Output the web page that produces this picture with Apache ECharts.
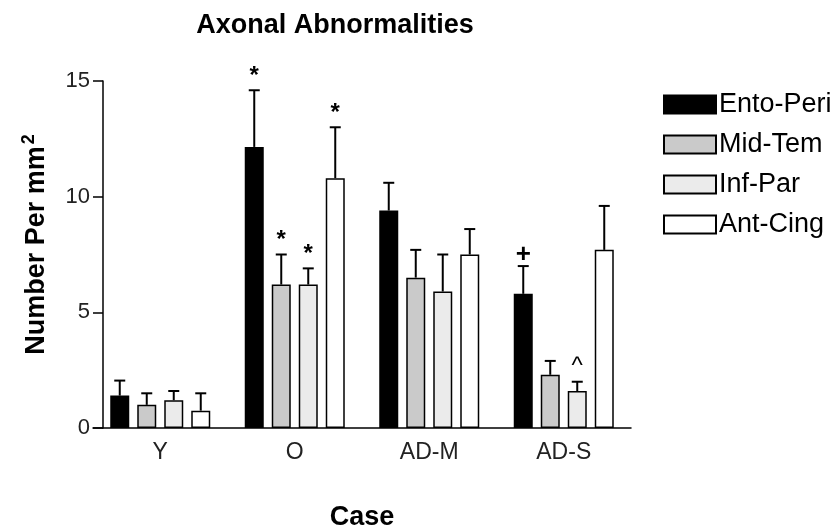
<!DOCTYPE html>
<html>
<head>
    <meta charset="utf-8">
    <title>Axonal Abnormalities</title>
    <script src="https://cdn.jsdelivr.net/npm/echarts@6/dist/echarts.min.js"></script>
    <style>
        body{
            margin: 0;
        }
        #main{
            width: 840px;
            height: 529px;
        }
    </style>
</head>
<body>
<div id="main"></div>
<script>
    // categories (cases) and regions
    var cases = ['Y', 'O', 'AD-M', 'AD-S'];
    var regions = ['Ento-Peri', 'Mid-Tem', 'Inf-Par', 'Ant-Cing'];

    // mean values
    var entoPeri = [1.4, 12.15, 9.4, 5.8];
    var midTem   = [1.0, 6.2, 6.5, 2.3];
    var infPar   = [1.2, 6.2, 5.9, 1.6];
    var antCing  = [0.75, 10.8, 7.5, 7.7];

    // upper error (SEM)
    var entoPeriErr = [0.65, 2.45, 1.2, 1.2];
    var midTemErr   = [0.5, 1.3, 1.2, 0.6];
    var infParErr   = [0.4, 0.7, 1.6, 0.4];
    var antCingErr  = [0.75, 2.2, 1.1, 1.9];

    // significance marks over the error bars
    var entoPeriMark = ['', '*', '', '+'];
    var midTemMark   = ['', '*', '', ''];
    var infParMark   = ['', '*', '', '^'];
    var antCingMark  = ['', '*', '', ''];

    var yTicks = [0, 5, 10, 15];

    var means = [entoPeri, midTem, infPar, antCing];
    var errs = [entoPeriErr, midTemErr, infParErr, antCingErr];
    var marks = [entoPeriMark, midTemMark, infParMark, antCingMark];
    var colors = ['#000000', '#cacaca', '#ebebeb', '#ffffff'];

    var barW = 19;
    var barGap = 8;

    // how far above the cap each mark sits
    var markStyle = {
        '*': {size: 24, weight: 'bold', lift: 2},
        '+': {size: 26, weight: 'bold', lift: -2},
        '^': {size: 24, weight: 'normal', lift: 3}
    };

    var series = [];
    regions.forEach(function (name, i) {
        series.push({
            name: name,
            type: 'bar',
            data: means[i],
            barWidth: barW,
            barGap: (barGap / barW * 100) + '%',
            itemStyle: {color: colors[i], borderColor: '#000', borderWidth: 1.5},
            emphasis: {disabled: true},
            z: 2
        });
    });
    // error bars + marks
    regions.forEach(function (name, i) {
        var d = means[i].map(function (v, k) { return [k, v, errs[i][k]]; });
        series.push({
            type: 'custom',
            data: d,
            z: 3,
            silent: true,
            encode: {x: 0, y: 1},
            renderItem: function (params, api) {
                var off = (i - 1.5) * (barW + barGap);
                var base = api.coord([api.value(0), api.value(1)]);
                var top = api.coord([api.value(0), api.value(1) + api.value(2)]);
                var x = base[0] + off;
                var mark = marks[i][params.dataIndex];
                var children = [
                    {type: 'line', shape: {x1: x, y1: base[1], x2: x, y2: top[1]},
                        style: {stroke: '#000', lineWidth: 2}},
                    {type: 'line', shape: {x1: x - 5.5, y1: top[1], x2: x + 5.5, y2: top[1]},
                        style: {stroke: '#000', lineWidth: 2}}
                ];
                if (mark) {
                    var ms = markStyle[mark];
                    children.push({
                        type: 'text',
                        style: {
                            text: mark, x: x, y: top[1] - ms.lift,
                            textAlign: 'center', textVerticalAlign: 'bottom',
                            fontFamily: 'Liberation Sans, Arial', fontWeight: ms.weight,
                            fontSize: ms.size, fill: '#000'
                        }
                    });
                }
                return {type: 'group', children: children};
            }
        });
    });

    var option = {
        animation: false,
        textStyle: {fontFamily: 'Liberation Sans, Arial'},
        title: {
            text: 'Axonal Abnormalities',
            left: 330,
            textAlign: 'center',
            top: 7,
            textStyle: {fontSize: 27, fontWeight: 'bold', color: '#000'}
        },
        legend: {
            orient: 'vertical',
            left: 658,
            top: 86,
            data: regions,
            icon: 'rect',
            itemWidth: 52,
            itemHeight: 18,
            itemGap: 13,
            textStyle: {fontSize: 27, color: '#000', padding: [0, 0, 0, -2]}
        },
        grid: {left: 93, right: 209, top: 81, bottom: 101, outerBoundsMode: 'none'},
        xAxis: {
            type: 'category',
            data: cases,
            name: 'Case',
            nameLocation: 'middle',
            nameGap: 76,
            nameTextStyle: {fontSize: 27, fontWeight: 'bold', color: '#000'},
            axisLine: {lineStyle: {color: '#000', width: 1.5}},
            axisTick: {show: false},
            axisLabel: {fontSize: 23, color: '#222', margin: 13}
        },
        yAxis: {
            type: 'value',
            min: 0,
            max: yTicks[yTicks.length - 1],
            interval: 5,
            offset: -10,
            name: 'Number Per mm{sup|2}',
            nameLocation: 'middle',
            nameGap: 49,
            nameTextStyle: {
                fontSize: 27, fontWeight: 'bold', color: '#000',
                padding: [0, 0, 0, 20],
                rich: {sup: {fontSize: 18, fontWeight: 'bold', color: '#000', padding: [0, 0, 16, 2]}}
            },
            splitLine: {show: false},
            axisLine: {show: true, lineStyle: {color: '#000', width: 1.5}},
            axisTick: {show: true, length: 10, lineStyle: {color: '#000', width: 1.5}},
            axisLabel: {fontSize: 22, color: '#222', margin: 13}
        },
        series: series
    };

    var myChart = echarts.init(document.getElementById('main'));
    myChart.setOption(option);
</script>
</body>
</html>
